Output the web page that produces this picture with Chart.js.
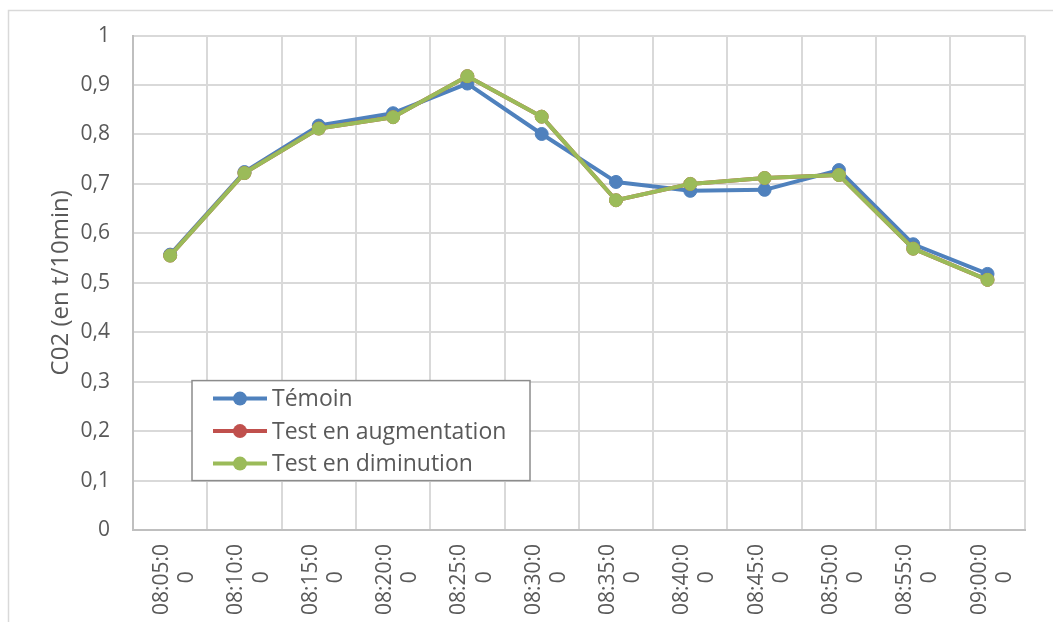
<!DOCTYPE html>
<html>
<head>
<meta charset="utf-8">
<title>CO2 (en t/10min)</title>
<script src="https://cdn.jsdelivr.net/npm/chart.js@4.4.1/dist/chart.umd.min.js"></script>
<style>
  html, body { margin: 0; padding: 0; background: #ffffff; }
  #wrap { width: 1053px; height: 622px; }
</style>
</head>
<body>
<div id="wrap"><canvas id="chart" width="1053" height="622"></canvas></div>
<script>
// Measurement times (one point every 5 minutes)
const times = ['08:05:00', '08:10:00', '08:15:00', '08:20:00', '08:25:00', '08:30:00',
               '08:35:00', '08:40:00', '08:45:00', '08:50:00', '08:55:00', '09:00:00'];

const seriesNames = ['Témoin', 'Test en augmentation', 'Test en diminution'];

// CO2 emitted, in t per 10 min
const temoin       = [0.557, 0.724, 0.818, 0.843, 0.903, 0.801, 0.704, 0.686, 0.688, 0.728, 0.578, 0.518];
const augmentation = [0.555, 0.722, 0.812, 0.835, 0.918, 0.836, 0.667, 0.700, 0.712, 0.718, 0.569, 0.506];
const diminution   = [0.555, 0.722, 0.812, 0.835, 0.918, 0.836, 0.667, 0.700, 0.712, 0.718, 0.569, 0.506];

const yTickLabels = ['0', '0,1', '0,2', '0,3', '0,4', '0,5', '0,6', '0,7', '0,8', '0,9', '1'];

const FONT = "'Open Sans', 'Liberation Sans', sans-serif";
const TEXT = '#595959';
const GRID = '#d9d9d9';
const colors = ['#4F81BD', '#C0504D', '#9BBB59'];

function lineSeries(label, data, color, order) {
  return {
    label, data, order,
    borderColor: color,
    backgroundColor: color,
    borderWidth: 4,
    pointRadius: 6.5,
    pointHoverRadius: 6.5,
    pointBorderWidth: 1,
    pointBackgroundColor: color,
    pointBorderColor: color,
    borderJoinStyle: 'round',
    tension: 0,
    fill: false
  };
}

// Light frame around the whole chart
const framePlugin = {
  id: 'frame',
  beforeDraw(chart) {
    const { ctx } = chart;
    ctx.save();
    ctx.strokeStyle = GRID;
    ctx.lineWidth = 1.5;
    ctx.strokeRect(8.5, 10.5, chart.width + 20, chart.height + 20);
    ctx.restore();
  }
};

// Boxed legend placed inside the plot, lower left
const insetLegend = {
  id: 'insetLegend',
  afterDraw(chart) {
    const { ctx, chartArea: ca } = chart;
    const x = ca.left + 59, y = ca.top + 345, w = 338, h = 100;
    ctx.save();
    ctx.fillStyle = '#ffffff';
    ctx.fillRect(x, y, w, h);
    ctx.strokeStyle = '#8c8c8c';
    ctx.lineWidth = 1.5;
    ctx.strokeRect(x, y, w, h);
    ctx.font = '23px ' + FONT;
    ctx.textBaseline = 'middle';
    ctx.textAlign = 'left';
    chart.data.datasets.forEach((ds, i) => {
      const cy = y + 18 + i * 32.5;
      ctx.strokeStyle = ds.borderColor;
      ctx.lineWidth = 4;
      ctx.beginPath();
      ctx.moveTo(x + 21, cy);
      ctx.lineTo(x + 75, cy);
      ctx.stroke();
      ctx.fillStyle = ds.borderColor;
      ctx.beginPath();
      ctx.arc(x + 48, cy, 7, 0, Math.PI * 2);
      ctx.fill();
      ctx.fillStyle = TEXT;
      ctx.fillText(ds.label, x + 80, cy + 1);
    });
    ctx.restore();
  }
};

new Chart(document.getElementById('chart'), {
  type: 'line',
  data: {
    labels: times,
    datasets: [
      lineSeries(seriesNames[0], temoin, colors[0], 3),
      lineSeries(seriesNames[1], augmentation, colors[1], 2),
      lineSeries(seriesNames[2], diminution, colors[2], 1)
    ]
  },
  options: {
    responsive: false,
    animation: false,
    devicePixelRatio: 1,
    layout: { padding: { top: 29, right: 26, bottom: 0, left: 0 } },
    plugins: {
      legend: { display: false },
      tooltip: { enabled: false }
    },
    scales: {
      x: {
        type: 'category',
        offset: true,
        grid: { offset: true, color: GRID, lineWidth: 2, drawTicks: false },
        border: { color: '#bfbfbf', width: 2 },
        ticks: {
          autoSkip: false,
          minRotation: 90,
          maxRotation: 90,
          padding: 14,
          labelOffset: -8,
          color: TEXT,
          font: { family: FONT, size: 21, lineHeight: 1.2 },
          // the time wraps onto two lines, last digit underneath
          callback(value, index) {
            const t = times[index];
            return [t.slice(0, -1), t.slice(-1) + '     '];
          }
        },
        afterFit(scale) { scale.height = 92; }
      },
      y: {
        min: 0,
        max: 1,
        grid: { color: GRID, lineWidth: 2, drawTicks: false },
        border: { color: '#bfbfbf', width: 2 },
        ticks: {
          stepSize: 0.1,
          padding: 23,
          color: TEXT,
          font: { family: FONT, size: 21 },
          callback(value, index) { return yTickLabels[index]; }
        },
        title: {
          display: true,
          text: 'C02 (en t/10min)',
          color: TEXT,
          font: { family: FONT, size: 24 },
          padding: { top: 47, bottom: 0 }
        },
        afterFit(scale) { scale.width = 133; }
      }
    }
  },
  plugins: [framePlugin, insetLegend]
});
</script>
</body>
</html>
